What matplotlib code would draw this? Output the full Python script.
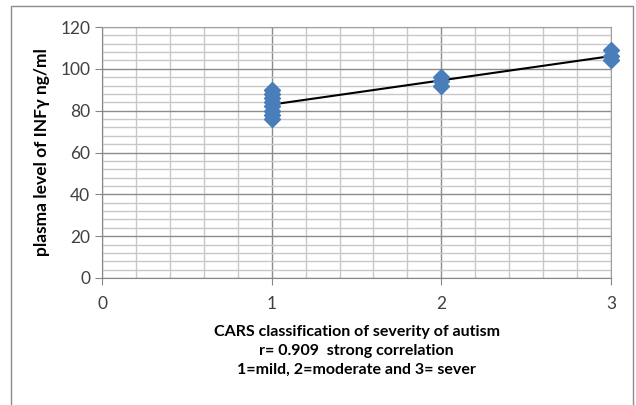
import numpy as np
import matplotlib.pyplot as plt
from matplotlib.patches import Rectangle
from matplotlib.ticker import MultipleLocator

# CARS severity group and plasma INF-gamma values
severity = [1, 1, 1, 1, 1, 1, 1, 1, 2, 2, 2, 3, 3, 3]
inf_gamma = [76, 78, 80, 82, 84, 86, 88, 90, 92, 94, 96, 104, 106, 109]

x_label_lines = ["CARS classification of severity of autism",
                 "r= 0.909  strong correlation",
                 "1=mild, 2=moderate and 3= sever"]
y_label = "plasma level of INF\u03b3 ng/ml"

plt.rcParams['font.family'] = ['Lato', 'DejaVu Sans']

fig = plt.figure(figsize=(6.36, 4.05), dpi=100)
fig.patches.append(Rectangle((11 / 636, -0.05), 622 / 636, 1.05 - 6 / 405,
                             transform=fig.transFigure, fill=False,
                             edgecolor="#8c8c8c", lw=1.0))
ax = fig.add_axes([102 / 636, 1 - 278 / 405, 509 / 636, 251 / 405])

ax.set_xlim(0, 3)
ax.set_ylim(0, 120)
ax.xaxis.set_major_locator(MultipleLocator(1))
ax.xaxis.set_minor_locator(MultipleLocator(0.2))
ax.yaxis.set_major_locator(MultipleLocator(20))
ax.yaxis.set_minor_locator(MultipleLocator(4))
ax.grid(which="major", color="#8c8c8c", lw=1.0)
ax.grid(which="minor", color="#c8c8c8", lw=1.0)
ax.set_axisbelow(True)

for side in ["top", "right"]:
    ax.spines[side].set_color("#a0a0a0")
for side in ["left", "bottom"]:
    ax.spines[side].set_color("#868686")
ax.tick_params(which="major", direction="out", length=5, color="#868686",
               labelsize=12.5, labelcolor="#404040")
ax.tick_params(which="minor", length=0)
ax.tick_params(axis="x", pad=8)

# linear trend line over the data range
slope, intercept = np.polyfit(severity, inf_gamma, 1)
xs = np.array([min(severity), max(severity)])
ax.plot(xs, slope * xs + intercept, color="black", lw=1.5, zorder=2)

ax.plot(severity, inf_gamma, linestyle="none", marker="D", markersize=8,
        color="#4a7ebb", clip_on=False, zorder=3)

ax.set_ylabel(y_label, fontsize=12.5, fontweight="bold", labelpad=7)
ax.set_xlabel("\n".join(x_label_lines), fontsize=11.5, fontweight="bold",
              labelpad=9, linespacing=1.45)

plt.savefig("out.png", dpi=100)
